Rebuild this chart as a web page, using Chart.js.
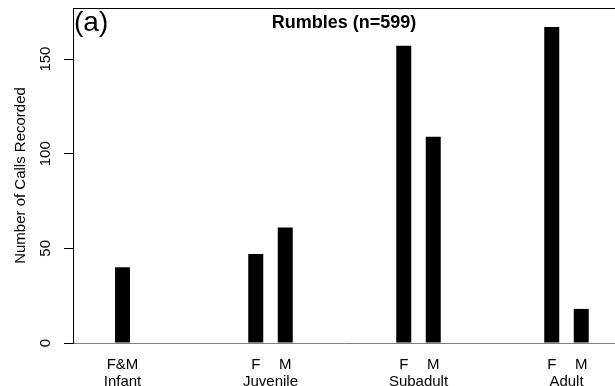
<!DOCTYPE html>
<html>
<head>
<meta charset="utf-8">
<script src="https://cdn.jsdelivr.net/npm/chart.js@4.4.1/dist/chart.umd.min.js"></script>
<style>
  html, body { margin: 0; padding: 0; background: #fff; overflow: hidden; }
  #wrap { width: 615px; height: 386px; position: relative; }
</style>
</head>
<body>
<div id="wrap"><canvas id="rumbles"></canvas></div>
<script>
// age classes along the x axis
const ageGroups = ['Infant', 'Juvenile', 'Subadult', 'Adult'];
// calls per age class (null = no bar of that kind)
const bothSexes = [40, null, null, null];
const females   = [null, 47, 157, 167];
const males     = [null, 61, 109, 18];
const sexLabels = ['F&M', 'F', 'M'];
const yTicks = [0, 50, 100, 150];
const yMax = 177;

const FONT = '"Liberation Sans", Arial, Helvetica, sans-serif';

function toPoints(values) {
    return values.map((v, i) => ({ x: i, y: v }));
}

// axis texts, drawn the R way (rotated y labels, two line x labels)
const rLabels = {
    id: 'rLabels',
    afterDraw(chart) {
        const ctx = chart.ctx;
        const area = chart.chartArea;
        const xs = chart.scales.x;
        const ys = chart.scales.y;
        ctx.save();
        ctx.fillStyle = '#000';

        // box top line
        ctx.strokeStyle = '#000';
        ctx.lineWidth = 1;
        ctx.beginPath();
        ctx.moveTo(area.left, area.top + 0.5);
        ctx.lineTo(area.right, area.top + 0.5);
        ctx.stroke();

        // y tick labels
        ctx.font = '15px ' + FONT;
        ctx.textAlign = 'center';
        ctx.textBaseline = 'alphabetic';
        yTicks.forEach(v => {
            ctx.save();
            ctx.translate(49.5, ys.getPixelForValue(v));
            ctx.rotate(-Math.PI / 2);
            ctx.fillText(String(v), 0, 0);
            ctx.restore();
        });

        // y title
        ctx.save();
        ctx.translate(25, (area.top + area.bottom) / 2);
        ctx.rotate(-Math.PI / 2);
        ctx.fillText('Number of Calls Recorded', 0, 0);
        ctx.restore();

        // x labels: sex under each bar, age class below
        chart.data.datasets.forEach((ds, d) => {
            const meta = chart.getDatasetMeta(d);
            meta.data.forEach((bar, i) => {
                if (ds.data[i].y === null) return;
                ctx.fillText(sexLabels[d], bar.x, 368.5);
            });
        });
        ageGroups.forEach((g, i) => {
            ctx.fillText(g, xs.getPixelForValue(i), 386);
        });

        // title and panel letter
        ctx.font = 'bold 18px ' + FONT;
        ctx.fillText('Rumbles (n=599)', (area.left + area.right) / 2, 28);
        ctx.font = '28px ' + FONT;
        ctx.textAlign = 'left';
        ctx.fillText('(a)', 74, 31);
        ctx.restore();
    }
};

const ctx = document.getElementById('rumbles').getContext('2d');
const chart = new Chart(ctx, {
    type: 'bar',
    data: {
        datasets: [
            { label: sexLabels[0], data: toPoints(bothSexes), backgroundColor: '#000' },
            { label: sexLabels[1], data: toPoints(females), backgroundColor: '#000' },
            { label: sexLabels[2], data: toPoints(males), backgroundColor: '#000' }
        ]
    },
    options: {
        responsive: true,
        maintainAspectRatio: false,
        devicePixelRatio: 1,
        animation: false,
        skipNull: true,
        categoryPercentage: 0.3986,
        barPercentage: 1,
        maxBarThickness: 15,
        layout: { padding: { top: 8, left: 0, right: 0, bottom: 0 } },
        plugins: {
            legend: { display: false },
            tooltip: { enabled: false },
            title: { display: false }
        },
        scales: {
            x: {
                type: 'linear',
                offset: false,
                min: -0.3345,
                max: 3.3277,
                afterBuildTicks: s => { s.ticks = ageGroups.map((g, i) => ({ value: i })); },
                afterFit: s => { s.height = 43; },
                ticks: { display: false },
                grid: { display: false, offset: false },
                border: { display: true, color: '#808080', width: 1 }
            },
            y: {
                min: 0,
                max: yMax,
                afterBuildTicks: s => { s.ticks = yTicks.map(v => ({ value: v })); },
                afterFit: s => { s.width = 73; },
                ticks: { display: false },
                grid: {
                    display: true,
                    drawOnChartArea: false,
                    drawTicks: true,
                    tickLength: 9,
                    color: '#000',
                    tickColor: '#000'
                },
                border: { display: true, color: '#000', width: 1 }
            }
        }
    },
    plugins: [rLabels]
});
</script>
</body>
</html>
